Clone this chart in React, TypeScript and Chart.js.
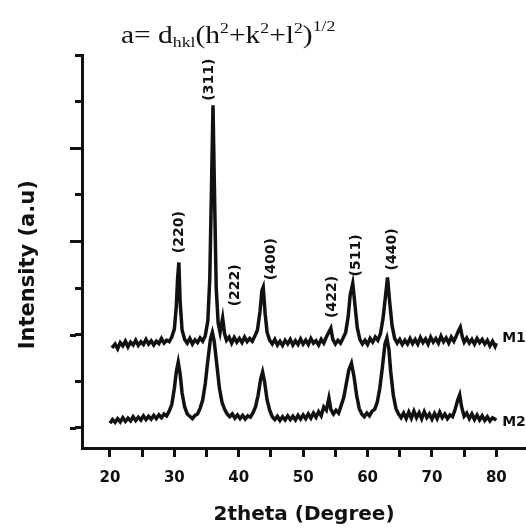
import React, { useEffect, useRef } from 'react';
import { Chart, registerables } from 'chart.js';

Chart.register(...registerables);

const m1Theta = [
  20.3, 20.8, 21.2, 21.6, 22.0, 22.4, 22.8, 23.2, 23.6, 24.0, 24.4, 24.8, 25.2, 25.6, 26.0, 26.4, 26.8, 27.2, 27.6, 28.0,
  28.4, 28.8, 29.2, 29.6, 30.0, 30.3, 30.5, 30.7, 30.9, 31.2, 31.6, 32.0, 32.4, 32.8, 33.2, 33.6, 34.0, 34.4, 34.8, 35.2,
  35.5, 35.8, 36.0, 36.2, 36.5, 36.8, 37.1, 37.5, 37.8, 38.1, 38.5, 38.9, 39.3, 39.7, 40.1, 40.5, 40.9, 41.3, 41.7, 42.1,
  42.5, 42.9, 43.3, 43.6, 43.8, 44.1, 44.4, 44.8, 45.2, 45.6, 46.0, 46.4, 46.8, 47.2, 47.6, 48.0, 48.4, 48.8, 49.2, 49.6,
  50.0, 50.4, 50.8, 51.2, 51.6, 52.0, 52.4, 52.8, 53.2, 53.6, 54.0, 54.3, 54.6, 55.0, 55.4, 55.8, 56.2, 56.6, 57.0, 57.3,
  57.7, 58.0, 58.4, 58.8, 59.2, 59.6, 60.0, 60.4, 60.8, 61.2, 61.6, 62.0, 62.4, 62.8, 63.1, 63.4, 63.8, 64.2, 64.6, 65.0,
  65.4, 65.8, 66.2, 66.6, 67.0, 67.4, 67.8, 68.2, 68.6, 69.0, 69.4, 69.8, 70.2, 70.6, 71.0, 71.4, 71.8, 72.2, 72.6, 73.0,
  73.4, 73.8, 74.1, 74.4, 74.7, 75.0, 75.4, 75.8, 76.2, 76.6, 77.0, 77.4, 77.8, 78.2, 78.6, 79.0, 79.4, 79.8, 80.0,
];
const m1Intensity = [
  1.72, 1.80, 1.70, 1.83, 1.76, 1.86, 1.74, 1.84, 1.78, 1.88, 1.77, 1.85, 1.79, 1.90, 1.80, 1.87, 1.78, 1.86, 1.81, 1.92,
  1.82, 1.88, 1.85, 1.95, 2.12, 2.60, 3.20, 3.55, 2.70, 2.10, 1.90, 1.82, 1.92, 1.80, 1.89, 1.83, 1.93, 1.86, 1.98, 2.30,
  3.20, 5.40, 6.92, 5.30, 3.00, 2.25, 2.05, 2.36, 2.02, 1.88, 1.95, 1.82, 1.94, 1.84, 1.92, 1.83, 1.95, 1.85, 1.92, 1.86,
  1.97, 2.10, 2.50, 2.95, 3.02, 2.45, 2.05, 1.88, 1.80, 1.90, 1.78, 1.86, 1.77, 1.88, 1.80, 1.90, 1.78, 1.87, 1.79, 1.91,
  1.80, 1.88, 1.79, 1.92, 1.82, 1.87, 1.78, 1.90, 1.82, 1.95, 2.06, 2.14, 1.90, 1.80, 1.88, 1.82, 1.93, 2.05, 2.40, 2.85,
  3.10, 2.70, 2.15, 1.90, 1.80, 1.88, 1.79, 1.92, 1.84, 1.95, 1.88, 2.02, 2.35, 2.85, 3.23, 2.75, 2.20, 1.92, 1.82, 1.90,
  1.79, 1.88, 1.80, 1.92, 1.81, 1.90, 1.80, 1.94, 1.83, 1.91, 1.80, 1.95, 1.84, 1.92, 1.82, 1.97, 1.85, 1.93, 1.82, 1.95,
  1.86, 1.98, 2.08, 2.16, 1.96, 1.84, 1.93, 1.82, 1.90, 1.80, 1.92, 1.83, 1.90, 1.80, 1.88, 1.76, 1.86, 1.75, 1.82,
];

const m2Theta = [
  20.0, 20.4, 20.8, 21.2, 21.6, 22.0, 22.4, 22.8, 23.2, 23.6, 24.0, 24.4, 24.8, 25.2, 25.6, 26.0, 26.4, 26.8, 27.2, 27.6,
  28.0, 28.4, 28.8, 29.2, 29.6, 30.0, 30.3, 30.6, 30.9, 31.2, 31.6, 32.0, 32.4, 32.8, 33.2, 33.6, 34.0, 34.4, 34.8, 35.2,
  35.6, 35.9, 36.2, 36.6, 37.0, 37.4, 37.8, 38.2, 38.6, 39.0, 39.4, 39.8, 40.2, 40.6, 41.0, 41.4, 41.8, 42.2, 42.6, 43.0,
  43.4, 43.7, 44.0, 44.4, 44.8, 45.2, 45.6, 46.0, 46.4, 46.8, 47.2, 47.6, 48.0, 48.4, 48.8, 49.2, 49.6, 50.0, 50.4, 50.8,
  51.2, 51.6, 52.0, 52.4, 52.8, 53.2, 53.6, 54.0, 54.3, 54.7, 55.1, 55.5, 55.9, 56.3, 56.7, 57.1, 57.5, 57.9, 58.3, 58.7,
  59.1, 59.5, 59.9, 60.3, 60.7, 61.1, 61.5, 61.9, 62.3, 62.7, 63.0, 63.3, 63.6, 64.0, 64.4, 64.8, 65.2, 65.6, 66.0, 66.4,
  66.8, 67.2, 67.6, 68.0, 68.4, 68.8, 69.2, 69.6, 70.0, 70.4, 70.8, 71.2, 71.6, 72.0, 72.4, 72.8, 73.2, 73.6, 74.0, 74.3,
  74.6, 75.0, 75.4, 75.8, 76.2, 76.6, 77.0, 77.4, 77.8, 78.2, 78.6, 79.0, 79.4, 80.0,
];
const m2Intensity = [
  0.10, 0.18, 0.12, 0.20, 0.13, 0.22, 0.14, 0.21, 0.15, 0.24, 0.16, 0.23, 0.17, 0.26, 0.18, 0.25, 0.19, 0.27, 0.20, 0.28,
  0.22, 0.30, 0.26, 0.36, 0.50, 0.85, 1.20, 1.41, 1.15, 0.75, 0.45, 0.30, 0.25, 0.20, 0.27, 0.30, 0.42, 0.60, 0.95, 1.45,
  1.90, 2.05, 1.85, 1.35, 0.85, 0.55, 0.40, 0.30, 0.24, 0.30, 0.21, 0.28, 0.20, 0.27, 0.19, 0.26, 0.23, 0.32, 0.45, 0.70,
  1.05, 1.20, 1.00, 0.60, 0.38, 0.24, 0.18, 0.25, 0.16, 0.24, 0.17, 0.26, 0.18, 0.25, 0.17, 0.27, 0.19, 0.28, 0.20, 0.30,
  0.21, 0.32, 0.23, 0.35, 0.26, 0.45, 0.38, 0.64, 0.40, 0.30, 0.38, 0.32, 0.48, 0.65, 0.95, 1.25, 1.39, 1.10, 0.70, 0.42,
  0.30, 0.24, 0.32, 0.26, 0.36, 0.40, 0.55, 0.85, 1.30, 1.80, 1.93, 1.70, 1.20, 0.70, 0.42, 0.30, 0.22, 0.32, 0.20, 0.34,
  0.21, 0.36, 0.22, 0.33, 0.20, 0.35, 0.22, 0.30, 0.19, 0.31, 0.20, 0.34, 0.22, 0.30, 0.20, 0.28, 0.24, 0.40, 0.60, 0.71,
  0.45, 0.25, 0.32, 0.20, 0.30, 0.18, 0.28, 0.17, 0.26, 0.16, 0.24, 0.15, 0.22, 0.17,
];

const seriesNames = ['M1', 'M2'];
const xTickValues = [20, 25, 30, 35, 40, 45, 50, 55, 60, 65, 70, 75, 80];
const xTickLabels = ['20', '', '30', '', '40', '', '50', '', '60', '', '70', '', '80'];
const yTickValues = [0, 1, 2, 3, 4, 5, 6, 7, 8];
const yMajorTicks = [0, 2, 4, 6];

const peakLabels = ['(220)', '(311)', '(222)', '(400)', '(422)', '(511)', '(440)'];
const peakLabelTheta = [30.7, 35.5, 39.4, 45.1, 54.6, 58.3, 63.9];
const peakLabelLevel = [4.2, 7.47, 3.06, 3.62, 2.81, 3.7, 3.83];
const seriesLabelTheta = [80.9, 80.9];
const seriesLabelLevel = [1.93, 0.11];
const yTitle = 'Intensity (a.u)';

const INK = '#111111';
const SANS = '"DejaVu Sans", sans-serif';

const annotationPlugin = {
  id: 'xrdAnnotations',
  afterDraw(chart: any) {
    const { ctx } = chart;
    const xs = chart.scales.x;
    const ys = chart.scales.y;
    ctx.save();
    ctx.fillStyle = INK;
    ctx.strokeStyle = INK;
    // longer major ticks on the intensity axis
    ctx.lineWidth = 3;
    yMajorTicks.forEach((v) => {
      const py = Math.round(ys.getPixelForValue(v)) + 0.5;
      ctx.beginPath();
      ctx.moveTo(ys.right - 6, py);
      ctx.lineTo(ys.right - 12, py);
      ctx.stroke();
    });
    // y-axis title
    ctx.save();
    ctx.font = `bold 21px ${SANS}`;
    ctx.textAlign = 'center';
    ctx.textBaseline = 'middle';
    ctx.translate(29, ys.getPixelForValue(3.5));
    ctx.rotate(-Math.PI / 2);
    ctx.fillText(yTitle, 0, 0);
    ctx.restore();
    // peak (hkl) labels, rotated
    ctx.font = `bold 14px ${SANS}`;
    ctx.textAlign = 'center';
    ctx.textBaseline = 'middle';
    peakLabels.forEach((t, i) => {
      const px = xs.getPixelForValue(peakLabelTheta[i]);
      const py = ys.getPixelForValue(peakLabelLevel[i]);
      ctx.save();
      ctx.translate(px, py);
      ctx.rotate(-Math.PI / 2);
      ctx.fillText(t, 0, 0);
      ctx.restore();
    });
    // series names
    ctx.font = `bold 14px ${SANS}`;
    ctx.textAlign = 'left';
    seriesNames.forEach((t, i) => {
      ctx.fillText(t, xs.getPixelForValue(seriesLabelTheta[i]), ys.getPixelForValue(seriesLabelLevel[i]));
    });
    // formula above the plot
    ctx.textAlign = 'left';
    ctx.textBaseline = 'alphabetic';
    ctx.translate(121, 43);
    ctx.scale(1.18, 1);
    const main = '25px "Liberation Serif", serif';
    const small = '15px "Liberation Serif", serif';
    const parts: [string, string, number][] = [
      ['a= d', main, 0],
      ['hkl', small, 4],
      ['(h', main, 0],
      ['2', small, -10],
      ['+k', main, 0],
      ['2', small, -10],
      ['+l', main, 0],
      ['2', small, -10],
      [')', main, 0],
      ['1/2', small, -12],
    ];
    let cx = 0;
    parts.forEach(([t, f, dy]) => {
      ctx.font = f;
      ctx.fillText(t, cx, dy);
      cx += ctx.measureText(t).width;
    });
    ctx.restore();
  },
};

export default function App() {
  const canvasRef = useRef<HTMLCanvasElement | null>(null);

  useEffect(() => {
    const canvas = canvasRef.current;
    if (!canvas) return;
    const chart = new Chart(canvas, {
      type: 'line',
      data: {
        datasets: [
          {
            label: seriesNames[0],
            data: m1Theta.map((t, i) => ({ x: t, y: m1Intensity[i] })),
            borderColor: INK,
            borderWidth: 3.5,
            pointRadius: 0,
            tension: 0,
          },
          {
            label: seriesNames[1],
            data: m2Theta.map((t, i) => ({ x: t, y: m2Intensity[i] })),
            borderColor: INK,
            borderWidth: 3.5,
            pointRadius: 0,
            tension: 0,
          },
        ],
      },
      options: {
        responsive: false,
        animation: false,
        events: [],
        layout: { padding: { top: 55, left: 0, right: 0, bottom: 0 } },
        plugins: { legend: { display: false }, tooltip: { enabled: false } },
        scales: {
          x: {
            type: 'linear',
            min: 15.66,
            max: 84.6,
            afterBuildTicks: (s: any) => {
              s.ticks = xTickValues.map((v) => ({ value: v }));
            },
            afterFit: (s: any) => {
              s.height = 83;
            },
            grid: { drawOnChartArea: false, drawTicks: true, tickLength: 9, tickWidth: 3, tickColor: INK },
            border: { display: true, width: 3, color: INK },
            ticks: {
              autoSkip: false,
              maxRotation: 0,
              padding: 12,
              color: INK,
              font: { family: SANS, weight: 'bold', size: 15 },
              callback: (_v: any, i: number) => xTickLabels[i],
            },
            title: {
              display: true,
              text: '2theta (Degree)',
              color: INK,
              font: { family: SANS, weight: 'bold', size: 20 },
              padding: { top: 0, bottom: 4 },
            },
          },
          y: {
            type: 'linear',
            min: -0.43,
            max: 8,
            afterBuildTicks: (s: any) => {
              s.ticks = yTickValues.map((v) => ({ value: v }));
            },
            afterFit: (s: any) => {
              s.width = 82;
            },
            grid: { drawOnChartArea: false, drawTicks: true, tickLength: 7, tickWidth: 3, tickColor: INK },
            border: { display: true, width: 3, color: INK },
            ticks: { display: false },
            title: { display: false },
          },
        },
      },
      plugins: [annotationPlugin],
    } as any);
    return () => chart.destroy();
  }, []);

  return (
    <div style={{ position: 'fixed', left: 0, top: 0, width: 526, height: 531, background: '#fff' }}>
      <canvas ref={canvasRef} width={526} height={531} style={{ display: 'block' }} />
    </div>
  );
}
